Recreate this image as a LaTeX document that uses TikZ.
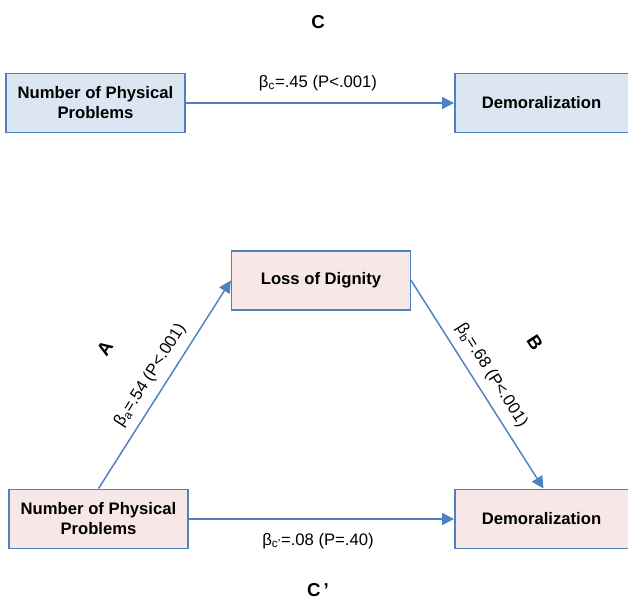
\documentclass[tikz,border=0pt]{standalone}
\usepackage{fontspec}
\setmainfont{Liberation Sans}
\usetikzlibrary{arrows.meta}
\definecolor{edgeblue}{HTML}{4F81BD}
\definecolor{fillblue}{HTML}{DCE6F2}
\definecolor{fillpink}{HTML}{F7E8E7}
\tikzset{
  boxbase/.style={draw=edgeblue, line width=1.2pt, minimum width=134pt, minimum height=44.5pt,
    inner sep=0pt, align=center, font=\fontsize{12.5}{15}\selectfont\bfseries},
  bluebox/.style={boxbase, fill=fillblue},
  pinkbox/.style={boxbase, fill=fillpink},
  conn/.style={draw=edgeblue, line width=1.1pt, -{Triangle[length=9pt,width=9pt]}},
  coef/.style={font=\fontsize{12.5}{15}\selectfont},
  tag/.style={font=\fontsize{14}{16}\selectfont\bfseries}
}
\begin{document}
\begin{tikzpicture}[x=0.75pt,y=-0.75pt]
\useasboundingbox (0,0) rectangle (628,599);
% top panel
\node[bluebox] (tl) at (95.5,103) {Number of Physical\\Problems};
\node[bluebox, minimum width=133pt] (tr) at (543.5,103) {\hspace*{-3pt}Demoralization};
\draw[conn] (tl.east) -- (tr.west);
\node[coef] (lc) at (318,83) {β\textsubscript{c}=.45 (P<.001)};
\node[tag] (C) at (318,22) {C};
% bottom panel
\node[pinkbox] (lod) at (321,280.5) {Loss of Dignity};
\node[pinkbox] (bl) at (98.5,519) {Number of Physical\\Problems};
\node[pinkbox, minimum width=133pt] (br) at (543.5,519) {\hspace*{-3pt}Demoralization};
\draw[conn] (bl.north) -- node[coef, midway, sloped, above=3pt] {β\textsubscript{a}=.54 (P<.001)} (lod.west);
\draw[conn] (lod.east) -- node[coef, midway, sloped, above=3pt] {β\textsubscript{b}=.68 (P<.001)} (br.north);
\draw[conn] (bl.east) -- (br.west);
\node[coef] (lcp) at (318,541) {β\textsubscript{c’}=.08 (P=.40)};
\node[tag, rotate=57] (A) at (105,348) {A};
\node[tag, rotate=-57] (B) at (535,343) {B};
\node[tag] (Cp) at (318,590) {C\,’};
\end{tikzpicture}
\end{document}
